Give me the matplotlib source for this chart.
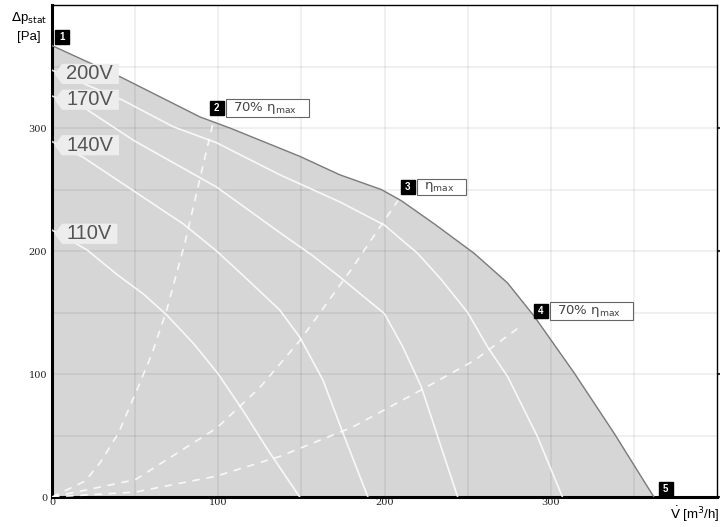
import matplotlib.pyplot as plt
from matplotlib.path import Path

plt.rcParams['font.family'] = ['Liberation Sans', 'DejaVu Sans']

# envelope (max curve)
env_x = [0, 42, 89, 107, 149, 173, 198, 210, 230, 254, 274, 290, 314, 338, 362]
env_y = [367, 341, 309, 300, 277, 262, 250, 241, 222, 198, 174, 147, 101, 52, 0]

# voltage curves
v200_x = [0, 42, 73, 99, 137, 173, 200, 220, 234, 250, 262, 274, 292, 307]
v200_y = [347, 323, 301, 288, 262, 240, 221, 198, 177, 150, 122, 98, 49, 0]
v170_x = [0, 21, 49, 99, 137, 157, 173, 200, 211, 222, 232, 244]
v170_y = [326, 315, 290, 252, 215, 196, 179, 149, 122, 90, 49, 0]
v140_x = [0, 19, 49, 79, 99, 115, 137, 149, 163, 175, 190]
v140_y = [289, 276, 249, 222, 200, 180, 152, 130, 95, 52, 0]
v110_x = [0, 21, 39, 55, 69, 85, 100, 115, 130, 149]
v110_y = [217, 201, 181, 165, 148, 125, 100, 70, 38, 0]
volt_labels = ['200V', '170V', '140V', '110V']

# system curves (dashed)
sysA_x = [0, 20, 29, 40, 52, 60, 69, 80, 97]
sysA_y = [0, 13, 28, 52, 90, 116, 152, 207, 305]
sysB_x = [0, 50, 99, 125, 149, 180, 208]
sysB_y = [0, 14, 56, 89, 127, 185, 241]
sysC_x = [0, 50, 99, 137, 181, 222, 254, 283]
sysC_y = [0, 4, 17, 33, 57, 87, 111, 140]

# operating point tags
pt_x = [6, 99, 214, 294, 369]
pt_y = [374, 316, 252, 151, 6.5]
pt_text = ['', '70% η$_{\\rm max}$', 'η$_{\\rm max}$', '70% η$_{\\rm max}$', '']


def tag_box(x0, y0, width, height, mutation_size):
    # label box with a small arrow notch on the left
    py = mutation_size * 0.03
    x0, x1 = x0 - mutation_size * 0.2, x0 + width + mutation_size * 0.3
    y0, y1 = y0 - py, y0 + height + py
    tip = (y1 - y0) * 0.38
    verts = [(x0, y0), (x1, y0), (x1, y1), (x0, y1), (x0 - tip, (y0 + y1) / 2), (x0, y0)]
    return Path(verts, closed=True)


def note_box(x0, y0, width, height, mutation_size):
    # plain rectangle, wider padding on the sides than top/bottom
    x0, x1 = x0 - mutation_size * 0.5, x0 + width + mutation_size * 0.9
    y0, y1 = y0 - mutation_size * 0.08, y0 + height + mutation_size * 0.08
    verts = [(x0, y0), (x1, y0), (x1, y1), (x0, y1), (x0, y0)]
    return Path(verts, closed=True)


fig = plt.figure(figsize=(7.28, 5.27), dpi=100)
ax = fig.add_axes([0.0714, 0.0569, 0.9136, 0.9336])
ax.set_xlim(0, 400)
ax.set_ylim(0, 400)

ax.fill_between(env_x, env_y, 0, color='#d6d6d6', lw=0, zorder=1)
ax.plot(env_x, env_y, color='#7a7a7a', lw=1.0, zorder=3)

# grid every 50
for g in range(50, 400, 50):
    ax.axvline(g, color='black', alpha=0.07, lw=1.2, zorder=2)
    ax.axhline(g, color='black', alpha=0.07, lw=1.2, zorder=2)

for xs, ys in [(v200_x, v200_y), (v170_x, v170_y), (v140_x, v140_y), (v110_x, v110_y)]:
    ax.plot(xs, ys, color='white', lw=1.2, alpha=0.85, zorder=3)

for xs, ys in [(sysA_x, sysA_y), (sysB_x, sysB_y), (sysC_x, sysC_y)]:
    ax.plot(xs, ys, color='white', lw=1.2, alpha=0.85, ls=(0, (4.5, 4)), zorder=3)

for lab, ys in zip(volt_labels, [v200_y, v170_y, v140_y, v110_y]):
    ax.text(8.5, ys[0] - 3, lab, fontsize=14.5, color='#555555', ha='left', va='center', zorder=5,
            bbox=dict(boxstyle=tag_box, fc='#ededed', ec='none'))

# numbered markers
ax.plot(pt_x, pt_y, ls='none', marker='s', ms=9.4, color='black', zorder=6, clip_on=False)
for i in range(5):
    ax.text(pt_x[i], pt_y[i], str(i + 1), fontsize=7, fontweight='bold', color='white',
            ha='center', va='center', zorder=7)
    if pt_text[i]:
        ax.annotate(pt_text[i], (pt_x[i], pt_y[i]), xytext=(11.5, 0), textcoords='offset points',
                    fontsize=9.5, family='DejaVu Sans', color='#444444', ha='left', va='center',
                    zorder=5,
                    bbox=dict(boxstyle=note_box, fc='white', ec='#666666', lw=0.8))

ax.set_xticks([0, 100, 200, 300])
ax.set_yticks([0, 100, 200, 300])
ax.tick_params(axis='x', length=0, pad=1)
ax.tick_params(axis='y', left=False, right=True, length=2.5, width=1.5, pad=1, color='#333333')
for t in ax.get_xticklabels() + ax.get_yticklabels():
    t.set_fontfamily('DejaVu Serif')
    t.set_fontsize(7)
    t.set_color('#222222')

for s in ['left', 'bottom']:
    ax.spines[s].set_linewidth(2.2)
for s in ['top', 'right']:
    ax.spines[s].set_linewidth(1.0)

fig.text(0.04, 0.965, '$\\Delta$p$_{\\rm stat}$', fontsize=9.5, ha='center', va='center')
fig.text(0.04, 0.93, '[Pa]', fontsize=9.5, ha='center', va='center')
fig.text(0.955, 0.025, '$\\dot{\\rm V}$ [m$^3$/h]', fontsize=9.5, ha='center', va='center')

fig.savefig('out.png', dpi=100)
